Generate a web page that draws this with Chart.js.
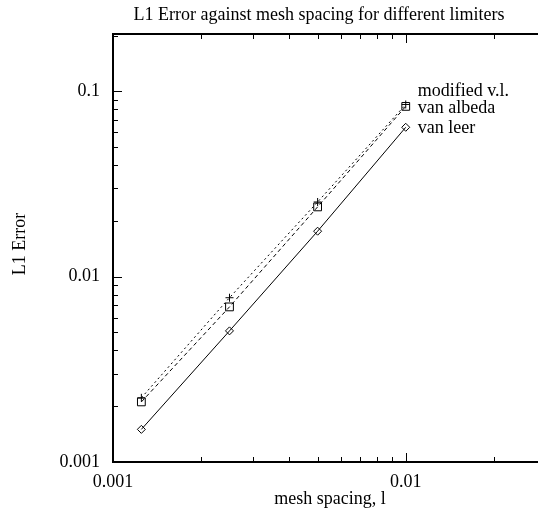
<!DOCTYPE html>
<html>
<head>
<meta charset="utf-8">
<script src="https://cdn.jsdelivr.net/npm/chart.js@4.4.1/dist/chart.umd.min.js"></script>
<style>
  html, body { margin: 0; padding: 0; background: #fff; }
  #wrap { position: relative; width: 538px; height: 512px; }
</style>
</head>
<body>
<div id="wrap"><canvas id="errChart"></canvas></div>
<script>
// mesh spacing (x) and L1 error for each limiter
const meshSpacing = [0.00125, 0.0025, 0.005, 0.01];
const modifiedVL = [0.00222, 0.0077, 0.0253, 0.085];
const vanAlbeda = [0.00211, 0.00687, 0.0238, 0.083];
const vanLeer = [0.0015, 0.0051, 0.0176, 0.064];
const seriesNames = ["modified v.l.", "van albeda", "van leer"];
const xTickValues = [0.001, 0.01];
const yTickValues = [0.001, 0.01, 0.1];

const FONT = "Liberation Serif";
const FSIZE = 18;

function toPoints(ys) {
  return meshSpacing.map((x, i) => ({ x: x, y: ys[i] }));
}

// inward log ticks, frame lines, titles and the line labels
const gnuplotLook = {
  id: "gnuplotLook",
  afterDraw(chart) {
    const ctx = chart.ctx;
    const area = chart.chartArea;
    const xs = chart.scales.x;
    const ys = chart.scales.y;
    ctx.save();
    ctx.strokeStyle = "#000";
    ctx.lineWidth = 1;

    // x ticks (bottom and top, pointing in)
    for (let d = -3; d <= -2; d++) {
      for (let m = 1; m <= 9; m++) {
        const v = m * Math.pow(10, d);
        if (v > xs.max) continue;
        const px = Math.round(xs.getPixelForValue(v)) + 0.5;
        const len = m === 1 ? 9 : 5;
        ctx.beginPath();
        ctx.moveTo(px, area.bottom);
        ctx.lineTo(px, area.bottom - len);
        ctx.moveTo(px, area.top);
        ctx.lineTo(px, area.top + len);
        ctx.stroke();
      }
    }
    // y ticks (left, pointing in)
    for (let d = -3; d <= -1; d++) {
      for (let m = 1; m <= 9; m++) {
        const v = m * Math.pow(10, d);
        if (v > ys.max) continue;
        const py = Math.round(ys.getPixelForValue(v)) + 0.5;
        const len = m === 1 ? 9 : 5;
        ctx.beginPath();
        ctx.moveTo(area.left, py);
        ctx.lineTo(area.left + len, py);
        ctx.stroke();
      }
    }

    // frame: left, bottom, top
    ctx.lineWidth = 2;
    ctx.beginPath();
    ctx.moveTo(area.right, area.top);
    ctx.lineTo(area.left, area.top);
    ctx.lineTo(area.left, area.bottom);
    ctx.lineTo(area.right, area.bottom);
    ctx.stroke();

    ctx.fillStyle = "#000";
    ctx.font = FSIZE + "px '" + FONT + "'";
    ctx.textBaseline = "middle";

    // title
    ctx.textAlign = "center";
    ctx.fillText("L1 Error against mesh spacing for different limiters", 319, 15);
    // x axis title
    ctx.fillText("mesh spacing, l", 330, 499);
    // y axis title
    ctx.save();
    ctx.translate(20, 244);
    ctx.rotate(-Math.PI / 2);
    ctx.fillText("L1 Error", 0, 0);
    ctx.restore();

    // labels next to the last point of each line
    ctx.textAlign = "left";
    const lastX = xs.getPixelForValue(meshSpacing[meshSpacing.length - 1]) + 12;
    const offsets = [-13, 2, 1];
    [modifiedVL, vanAlbeda, vanLeer].forEach((arr, i) => {
      const py = ys.getPixelForValue(arr[arr.length - 1]) + offsets[i];
      ctx.fillText(seriesNames[i], lastX, py);
    });
    ctx.restore();
  },
};

const ctx = document.getElementById("errChart").getContext("2d");
const chart = new Chart(ctx, {
  type: "line",
  data: {
    datasets: [
      {
        label: seriesNames[0],
        data: toPoints(modifiedVL),
        borderColor: "#000",
        borderWidth: 1,
        borderDash: [2, 3],
        pointStyle: "cross",
        pointRadius: 4,
        pointBorderColor: "#000",
        pointBorderWidth: 1,
        fill: false,
      },
      {
        label: seriesNames[1],
        data: toPoints(vanAlbeda),
        borderColor: "#000",
        borderWidth: 1,
        borderDash: [4, 3],
        pointStyle: "rect",
        pointRadius: 5.5,
        pointBackgroundColor: "rgba(0,0,0,0)",
        pointBorderColor: "#000",
        pointBorderWidth: 1,
        fill: false,
      },
      {
        label: seriesNames[2],
        data: toPoints(vanLeer),
        borderColor: "#000",
        borderWidth: 1,
        pointStyle: "rectRot",
        pointRadius: 4,
        pointBackgroundColor: "rgba(0,0,0,0)",
        pointBorderColor: "#000",
        pointBorderWidth: 1,
        fill: false,
      },
    ],
  },
  options: {
    responsive: true,
    maintainAspectRatio: false,
    animation: false,
    layout: { autoPadding: false, padding: { top: 34, right: 0, left: 0, bottom: 0 } },
    plugins: {
      legend: { display: false },
      tooltip: { enabled: false },
      title: { display: false },
    },
    scales: {
      x: {
        type: "logarithmic",
        min: 0.001,
        max: 0.0283,
        border: { display: false },
        grid: { display: false },
        afterBuildTicks: (scale) => {
          scale.ticks = xTickValues.map((v) => ({ value: v }));
        },
        afterFit: (scale) => {
          scale.height = 50;
          scale.paddingLeft = 0;
          scale.paddingRight = 0;
        },
        ticks: {
          color: "#000",
          font: { family: FONT, size: FSIZE },
          padding: 1,
          maxRotation: 0,
          callback: (v) => String(v),
        },
      },
      y: {
        type: "logarithmic",
        min: 0.001,
        max: 0.204,
        border: { display: false },
        grid: { display: false },
        afterBuildTicks: (scale) => {
          scale.ticks = yTickValues.map((v) => ({ value: v }));
        },
        afterFit: (scale) => {
          scale.width = 113;
          scale.paddingTop = 0;
          scale.paddingBottom = 0;
        },
        ticks: {
          color: "#000",
          font: { family: FONT, size: FSIZE },
          padding: 5,
          callback: (v) => String(v),
        },
      },
    },
  },
  plugins: [gnuplotLook],
});
</script>
</body>
</html>
